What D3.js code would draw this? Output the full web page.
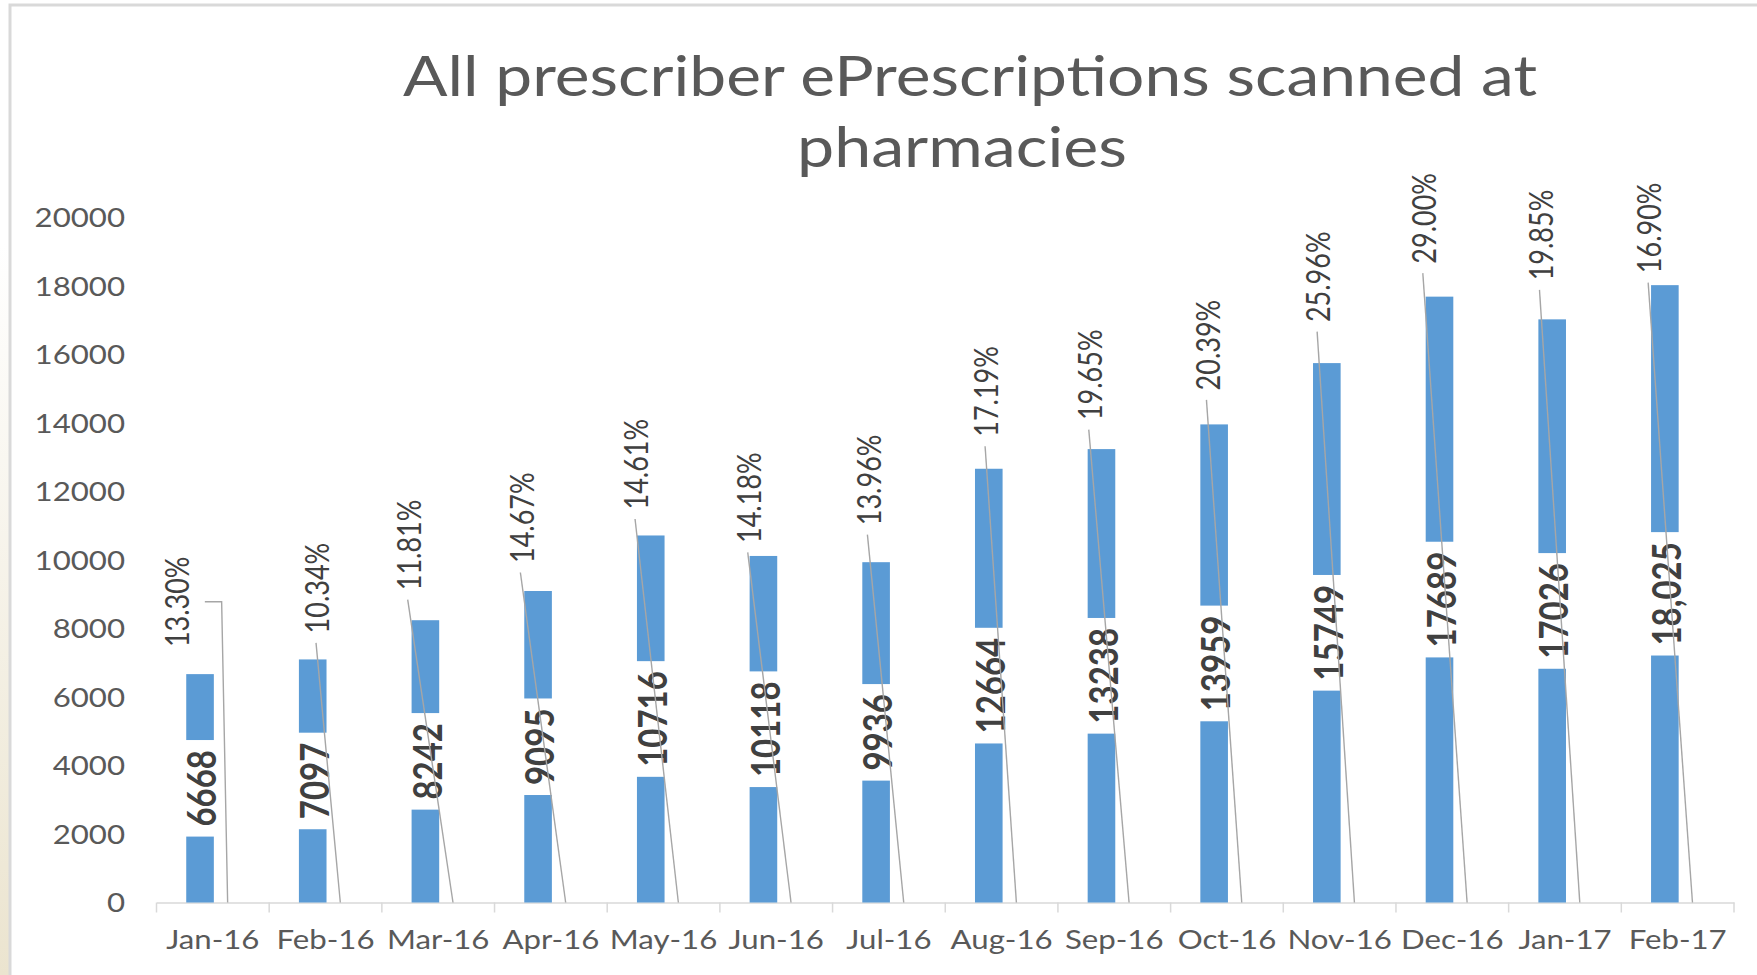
<!DOCTYPE html>
<html>
<head>
<meta charset="utf-8">
<script src="https://cdn.jsdelivr.net/npm/d3@7"></script>
<style>
  body { margin: 0; background: #fff; }
  svg { display: block; font-family: Lato, 'Open Sans', sans-serif; }
</style>
</head>
<body>
<div id="chart"></div>
<script>
const months = ['Jan-16', 'Feb-16', 'Mar-16', 'Apr-16', 'May-16', 'Jun-16', 'Jul-16',
  'Aug-16', 'Sep-16', 'Oct-16', 'Nov-16', 'Dec-16', 'Jan-17', 'Feb-17'];
const scanned = [6668, 7097, 8242, 9095, 10716, 10118, 9936, 12664, 13238, 13959, 15749, 17689, 17026, 18025];
const scannedLabels = ['6668', '7097', '8242', '9095', '10716', '10118', '9936', '12664', '13238',
  '13959', '15749', '17689', '17026', '18,025'];
const sharePct = [13.30, 10.34, 11.81, 14.67, 14.61, 14.18, 13.96, 17.19, 19.65, 20.39, 25.96, 29.00, 19.85, 16.90];
const yTicks = [0, 2000, 4000, 6000, 8000, 10000, 12000, 14000, 16000, 18000, 20000];
const titleLines = ['All prescriber ePrescriptions scanned at', 'pharmacies'];

// the % labels were dragged by hand in the original, so nudge them (px)
const pctNudge = [[-11, 3], [17, 4], [-4, 0], [-4, 2], [-2, 4], [-2, 17], [5, -7],
  [10, -2], [1, 1], [6, -4], [4, -11], [-3, -3], [1, -9], [-3, 18]];

const width = 1757;
const height = 975;
const sx = 1.2; // source picture is a bit stretched sideways

const svg = d3.select('#chart')
  .append('svg')
  .attr('width', width)
  .attr('height', height);

// beige strip at the left and the chart frame
const grad = svg.append('defs').append('linearGradient')
  .attr('id', 'strip')
  .attr('x1', 0).attr('y1', 0).attr('x2', 0).attr('y2', 1);
grad.append('stop').attr('offset', '25%').attr('stop-color', '#ffffff');
grad.append('stop').attr('offset', '100%').attr('stop-color', '#ebe4cf');

svg.append('rect')
  .attr('width', 9)
  .attr('height', height)
  .attr('fill', 'url(#strip)');

svg.append('path')
  .attr('d', `M10,${height}V5H${width}`)
  .attr('fill', 'none')
  .attr('stroke', '#d9d9d9')
  .attr('stroke-width', 3);

// title
svg.append('g')
  .selectAll('text')
  .data(titleLines)
  .join('text')
  .attr('x', (d, i) => i === 0 ? 970 : 962)
  .attr('y', (d, i) => i === 0 ? 96 : 166.5)
  .attr('text-anchor', 'middle')
  .attr('textLength', (d, i) => i === 0 ? 1134 : 330)
  .attr('lengthAdjust', 'spacingAndGlyphs')
  .attr('fill', '#595959')
  .style('font-size', '57px')
  .text(d => d);

const x = d3.scaleBand()
  .domain(months)
  .range([156.5, 1734]);

const bw = x.bandwidth();
const barW = bw * 0.245;

// two clustered series: the counts and an invisible one carrying the %
const inner = d3.scaleBand()
  .domain(['scanned', 'share'])
  .range([bw / 2 - barW + 1, bw / 2 + barW + 1]);

const y = d3.scaleLinear()
  .domain([0, 20000])
  .range([902.5, 217.5]);

// y axis
const yAxis = svg.append('g')
  .attr('transform', `translate(${x.range()[0]},0)`)
  .call(d3.axisLeft(y).tickValues(yTicks).tickSize(0).tickFormat(d3.format('d')))
  .attr('font-family', null)
  .attr('font-size', null);

yAxis.select('.domain').remove();
yAxis.selectAll('text')
  .attr('x', 0)
  .attr('dy', '0.36em')
  .attr('transform', `translate(-31.5,0) scale(${sx},1)`)
  .attr('fill', '#595959')
  .style('font-size', '26px');

// x axis
const xAxis = svg.append('g')
  .attr('transform', `translate(0,${y(0)})`)
  .call(d3.axisBottom(x).tickSize(0).tickSizeOuter(0))
  .attr('font-family', null)
  .attr('font-size', null);

xAxis.select('.domain')
  .attr('stroke', '#d9d9d9')
  .attr('stroke-width', 1.5);

xAxis.selectAll('text')
  .attr('y', 47)
  .attr('dy', 0)
  .attr('transform', `scale(${sx},1)`)
  .attr('fill', '#595959')
  .style('font-size', '26px');

xAxis.selectAll('.sep')
  .data(d3.range(months.length + 1))
  .join('line')
  .attr('class', 'sep')
  .attr('x1', i => x.range()[0] + i * x.step())
  .attr('x2', i => x.range()[0] + i * x.step())
  .attr('y1', 0)
  .attr('y2', 10)
  .attr('stroke', '#d9d9d9')
  .attr('stroke-width', 1.5);

// bars
svg.append('g')
  .selectAll('rect')
  .data(scanned)
  .join('rect')
  .attr('x', (d, i) => x(months[i]) + inner('scanned'))
  .attr('y', d => y(d))
  .attr('width', inner.bandwidth())
  .attr('height', d => y(0) - y(d))
  .attr('fill', '#5b9bd5');

// count labels in the middle of the bar, on a white box
const valueG = svg.append('g')
  .selectAll('g')
  .data(scanned)
  .join('g')
  .attr('transform', (d, i) => `translate(${x(months[i]) + inner('scanned') + barW / 2 + 2},${y(d / 2)})`);

valueG.append('text')
  .text((d, i) => scannedLabels[i])
  .attr('transform', `scale(${sx},1) rotate(-90)`)
  .attr('text-anchor', 'middle')
  .attr('dy', '0.36em')
  .attr('fill', '#404040')
  .style('font-size', '33px')
  .style('font-weight', 700);

valueG.each(function() {
  const g = d3.select(this);
  const len = g.select('text').node().getComputedTextLength();
  g.insert('rect', 'text')
    .attr('x', -barW / 2 - 6)
    .attr('y', -len / 2 - 10)
    .attr('width', barW + 8)
    .attr('height', len + 20)
    .attr('fill', '#fff');
});

// leader lines go here, on top of bars and count labels
const leaderG = svg.append('g');

// % labels
const pctPos = sharePct.map((d, i) => [
  x(months[i]) + bw / 2 - 25 + pctNudge[i][0],
  y(scanned[i]) - 30 + pctNudge[i][1]
]);

const pctText = svg.append('g')
  .selectAll('text')
  .data(sharePct)
  .join('text')
  .attr('transform', (d, i) => `translate(${pctPos[i][0]},${pctPos[i][1]}) scale(${sx},1) rotate(-90)`)
  .attr('dy', '0.36em')
  .attr('fill', '#404040')
  .style('font-size', '27px')
  .text(d => d.toFixed(2) + '%');

const pctLen = pctText.nodes().map(n => n.getComputedTextLength());

// each % label is tied to its hidden bar on the baseline
const leaders = sharePct.map((d, i) => {
  const [lx, ly] = pctPos[i];
  const ax = x(months[i]) + inner('share') + barW / 2;
  const ay = y(0);
  if (ax - lx > 48) {
    const my = ly - pctLen[i] / 2;
    return [[lx + 28, my], [ax - 6, my], [ax, ay]];
  }
  return [[lx - 1.5, ly + 9.5], [ax, ay]];
});

leaderG.selectAll('path')
  .data(leaders)
  .join('path')
  .attr('d', d3.line())
  .attr('fill', 'none')
  .attr('stroke', '#a6a6a6')
  .attr('stroke-width', 1.4);
</script>
</body>
</html>
